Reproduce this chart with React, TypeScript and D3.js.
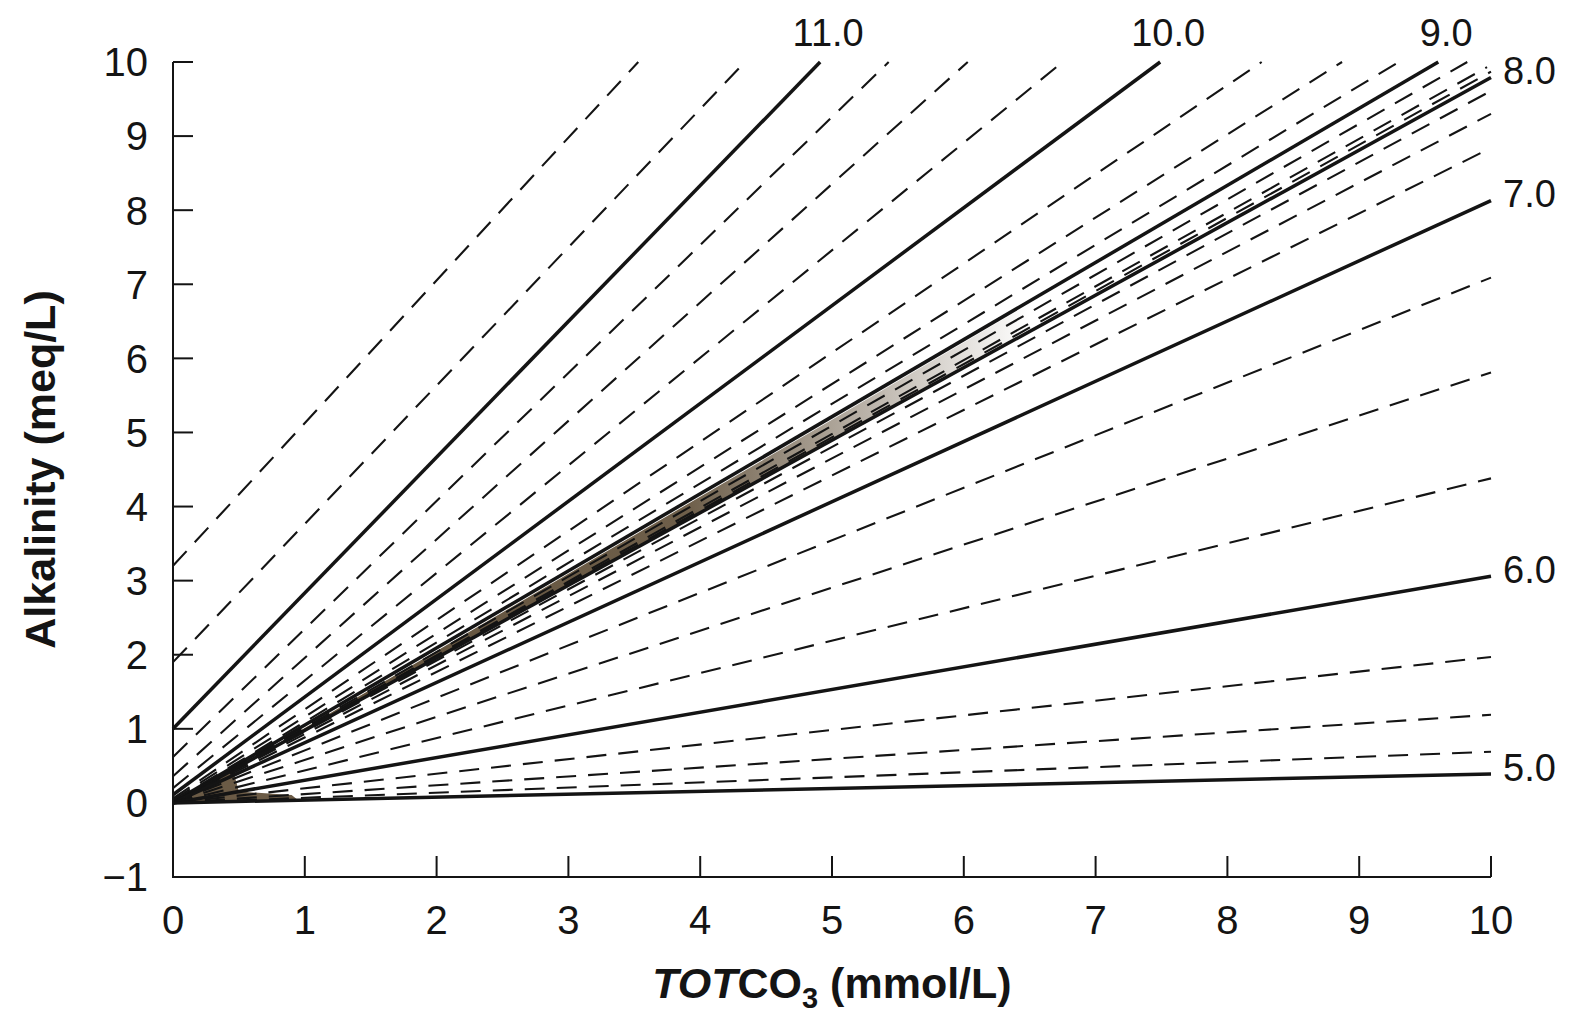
import React from 'react';
import * as d3 from 'd3';

// pH of each isopleth, from the steepest (top left) to the flattest (bottom)
const PH_LEVELS = [
  11.5, 11.25, 11.0, 10.75, 10.5, 10.25, 10.0, 9.75, 9.5, 9.25, 9.0,
  8.75, 8.5, 8.25, 8.0, 7.75, 7.5, 7.25, 7.0, 6.75, 6.5, 6.25, 6.0,
  5.75, 5.5, 5.25, 5.0,
];
// alkalinity where each line crosses TOTCO3 = 0
const START_ALK = [
  3.2, 1.9, 1.0, 0.62, 0.36, 0.2, 0.11, 0.06, 0.04, 0.02, 0.01,
  0, 0, 0, 0, 0, 0, 0, 0, 0, 0, 0, 0, 0, 0, 0, 0,
];
// TOTCO3 / alkalinity where each line stops
const END_CO3 = [
  3.53, 4.34, 4.91, 5.43, 6.03, 6.75, 7.49, 8.26, 8.87, 9.3, 9.6,
  9.82, 9.97, 10, 10, 10, 10, 10, 10, 10, 10, 10, 10, 10, 10, 10, 10,
];
const END_ALK = [
  10, 10, 10, 10, 10, 10, 10, 10, 10, 10, 10,
  10, 9.93, 9.87, 9.79, 9.61, 9.3, 8.84, 8.13, 7.09, 5.81, 4.38, 3.06,
  1.97, 1.19, 0.69, 0.39,
];

const X_TICKS = [0, 1, 2, 3, 4, 5, 6, 7, 8, 9, 10];
const Y_TICKS = [-1, 0, 1, 2, 3, 4, 5, 6, 7, 8, 9, 10];

const W = 1574;
const H = 1016;
const FONT = '"Liberation Sans", Arial, Helvetica, sans-serif';
const INK = '#141414';
const BROWN = '#5e4d36';

export default function App() {
  const x = d3.scaleLinear().domain([0, 10]).range([173, 1491]);
  const y = d3.scaleLinear().domain([-1, 10]).range([877, 62]);

  const lines = PH_LEVELS.map((ph, i) => ({
    ph,
    solid: Number.isInteger(ph),
    pts: [[0, START_ALK[i]], [END_CO3[i], END_ALK[i]]] as [number, number][],
  }));

  const lineGen = d3.line<[number, number]>()
    .x(d => x(d[0]))
    .y(d => y(d[1]));

  // alkalinity on a given line at a given TOTCO3 (straight segment)
  const alkAt = (i: number, c: number) =>
    START_ALK[i] + (END_ALK[i] - START_ALK[i]) * (c / END_CO3[i]);

  const idx = (ph: number) => PH_LEVELS.indexOf(ph);

  // the crowded band between pH 8 and 9 that prints as a brown smear
  const bandXs = [0, 1, 2, 3, 4, 5, 6.5];
  const band = d3.area<number>()
    .x(c => x(c))
    .y0(c => y(alkAt(idx(8.0), c)))
    .y1(c => y(alkAt(idx(9.0), c) - 0.04))(bandXs);

  // and the wedge where every line runs into the origin
  const wedge = lineGen([
    [0, 0],
    [0.45, alkAt(idx(9.0), 0.45)],
    [0.5, alkAt(idx(6.0), 0.5)],
    [0.9, alkAt(idx(5.5), 0.9)],
    [0.95, alkAt(idx(5.0), 0.95)],
    [0, 0],
  ]);

  return (
    <div style={{ position: 'absolute', left: 0, top: 0 }}>
      <svg width={W} height={H} style={{ display: 'block', background: '#fff' }}>
        <defs>
          <linearGradient id="smear" gradientUnits="userSpaceOnUse"
            x1={x(0)} y1={0} x2={x(6.5)} y2={0}>
            <stop offset="0" stopColor={BROWN} stopOpacity={1} />
            <stop offset="0.6" stopColor={BROWN} stopOpacity={0.9} />
            <stop offset="1" stopColor={BROWN} stopOpacity={0} />
          </linearGradient>
        </defs>

        <path d={band ?? ''} fill="url(#smear)" />
        <path d={wedge ?? ''} fill={BROWN} opacity={0.92} />

        {lines.map(l => (
          <path
            key={l.ph}
            d={lineGen(l.pts) ?? ''}
            fill="none"
            stroke={INK}
            strokeWidth={l.solid ? 3.5 : 2.1}
            strokeDasharray={l.solid ? undefined : '20 12'}
          />
        ))}

        {/* axes */}
        <path
          d={`M${x(0)},${y(10)}V${y(-1)}H${x(10)}`}
          fill="none" stroke={INK} strokeWidth={2}
        />
        {Y_TICKS.map(t => (
          <g key={'y' + t}>
            <line x1={x(0)} x2={x(0) + 20} y1={y(t)} y2={y(t)} stroke={INK} strokeWidth={2} />
            <text x={148} y={y(t)} dy="0.36em" textAnchor="end"
              fontFamily={FONT} fontSize={40} fill={INK}>
              {t < 0 ? '\u2212' + Math.abs(t) : t}
            </text>
          </g>
        ))}
        {X_TICKS.map(t => (
          <g key={'x' + t}>
            <line x1={x(t)} x2={x(t)} y1={y(-1)} y2={y(-1) - 21} stroke={INK} strokeWidth={2} />
            <text x={x(t)} y={920} dy="0.36em" textAnchor="middle"
              fontFamily={FONT} fontSize={40} fill={INK}>
              {t}
            </text>
          </g>
        ))}

        {/* pH labels */}
        {lines.filter(l => l.solid).map(l => {
          const i = idx(l.ph);
          const onTop = END_ALK[i] >= 10 && END_CO3[i] < 9.7;
          return onTop ? (
            <text key={'l' + l.ph} x={x(END_CO3[i]) + 8} y={y(10) - 30} dy="0.36em"
              textAnchor="middle" fontFamily={FONT} fontSize={38} fill={INK}>
              {l.ph.toFixed(1)}
            </text>
          ) : (
            <text key={'l' + l.ph} x={x(10) + 12} y={y(END_ALK[i]) - 7} dy="0.36em"
              textAnchor="start" fontFamily={FONT} fontSize={38} fill={INK}>
              {l.ph.toFixed(1)}
            </text>
          );
        })}

        {/* axis titles */}
        <text x={(x(0) + x(10)) / 2} y={998} textAnchor="middle"
          fontFamily={FONT} fontSize={43} fontWeight="bold" fill={INK}>
          <tspan fontStyle="italic">TOT</tspan>CO
          <tspan fontSize={29} dy={10}>3</tspan>
          <tspan dy={-10}> (mmol/L)</tspan>
        </text>
        <text transform={`translate(55,${(y(10) + y(-1)) / 2}) rotate(-90)`}
          textAnchor="middle" fontFamily={FONT} fontSize={43} fontWeight="bold" fill={INK}>
          Alkalinity (meq/L)
        </text>
      </svg>
    </div>
  );
}
